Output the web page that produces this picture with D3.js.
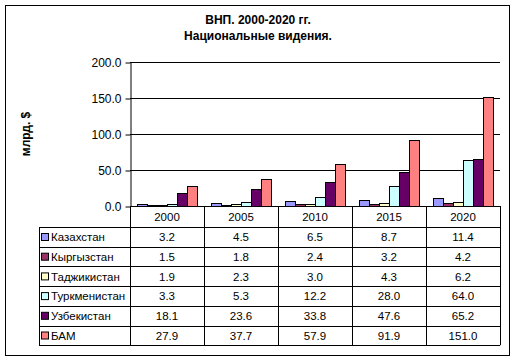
<!DOCTYPE html>
<html>
<head>
<meta charset="utf-8">
<script src="https://cdn.jsdelivr.net/npm/d3@7"></script>
<style>
  body { margin: 0; background: #fff; }
  svg text { font-family: "Liberation Sans", Arial, sans-serif; }
</style>
</head>
<body>
<svg id="chart" width="517" height="362"></svg>
<script>
// Chart data
const years = ["2000", "2005", "2010", "2015", "2020"];
const countries = ["Казахстан", "Кыргызстан", "Таджикистан", "Туркменистан", "Узбекистан", "БАМ"];
const colours = ["#9999FF", "#993366", "#FFFFCC", "#CCFFFF", "#660066", "#FF8080"];
const kazakhstan = [3.2, 4.5, 6.5, 8.7, 11.4];
const kyrgyzstan = [1.5, 1.8, 2.4, 3.2, 4.2];
const tajikistan = [1.9, 2.3, 3.0, 4.3, 6.2];
const turkmenistan = [3.3, 5.3, 12.2, 28.0, 64.0];
const uzbekistan = [18.1, 23.6, 33.8, 47.6, 65.2];
const bam = [27.9, 37.7, 57.9, 91.9, 151.0];
const yTicks = [0, 50, 100, 150, 200];
const titleLines = ["ВНП. 2000-2020 гг.", "Национальные видения."];
const yLabel = "млрд. $";

const seriesValues = [kazakhstan, kyrgyzstan, tajikistan, turkmenistan, uzbekistan, bam];
const series = countries.map((c, i) => ({ name: c, colour: colours[i], values: seriesValues[i] }));

const svg = d3.select('#chart');

// Outer frame
svg.append('rect')
    .attr('x', 5.5).attr('y', 5.5)
    .attr('width', 504).attr('height', 350)
    .attr('fill', '#fff').attr('stroke', '#000');

// Title
svg.selectAll('text.title').data(titleLines).join('text')
    .attr('class', 'title')
    .attr('x', 258)
    .attr('y', (d, i) => 24 + i * 15.5)
    .attr('text-anchor', 'middle')
    .attr('font-size', 12)
    .attr('font-weight', 'bold')
    .text(d => d);

// Plot geometry
const plot = { left: 130, right: 500, top: 62, bottom: 206 };
const rowH = 19.7;
const headerBottom = 227;
const tableLeft = 39;
const fontSize = 11.5;

const xScale = d3.scaleBand()
    .domain(years)
    .range([plot.left, plot.right]);

const xInner = d3.scaleBand()
    .domain(countries)
    .range([0, xScale.bandwidth()])
    .paddingOuter(0.7);

const yScale = d3.scaleLinear()
    .domain([0, 200])
    .range([plot.bottom, plot.top]);

// Gridlines
svg.append('g')
    .selectAll('line').data(yTicks.filter(d => d > 0)).join('line')
    .attr('x1', plot.left).attr('x2', plot.right)
    .attr('y1', d => Math.round(yScale(d)) + 0.5)
    .attr('y2', d => Math.round(yScale(d)) + 0.5)
    .attr('stroke', '#000');

// Bars
svg.append('g')
    .selectAll('g').data(series).join('g')
    .attr('fill', d => d.colour)
    .selectAll('rect').data(d => d.values.map((v, i) => ({ name: d.name, year: years[i], v })))
    .join('rect')
    .attr('x', d => Math.round(xScale(d.year) + xInner(d.name)) + 0.5)
    .attr('width', xInner.bandwidth())
    .attr('y', d => Math.round(yScale(d.v)) + 0.5)
    .attr('height', d => Math.max(0, Math.round(yScale(0)) - Math.round(yScale(d.v))))
    .attr('stroke', '#000')
    .attr('stroke-width', 1);

// Y axis
const yAxis = d3.axisLeft(yScale)
    .tickValues(yTicks)
    .tickFormat(d3.format('.1f'))
    .tickSize(5)
    .tickSizeOuter(0)
    .tickPadding(4);

const yAxisG = svg.append('g')
    .attr('transform', `translate(${plot.left + 0.5},0.5)`)
    .call(yAxis);
yAxisG.select('.domain').attr('stroke', '#000');
yAxisG.selectAll('text').attr('font-size', 12).attr('fill', '#000')
    .attr('font-family', '"Liberation Sans", Arial, sans-serif');

svg.append('text')
    .attr('transform', `translate(30,${(plot.top + plot.bottom) / 2}) rotate(-90)`)
    .attr('text-anchor', 'middle')
    .attr('font-size', 12)
    .attr('font-weight', 'bold')
    .text(yLabel);

// Data table
const rowY = i => headerBottom + i * rowH;
const tableBottom = rowY(series.length);
const table = svg.append('g').attr('stroke', '#000').attr('fill', 'none');

// x axis line
table.append('line')
    .attr('x1', plot.left).attr('x2', plot.right)
    .attr('y1', plot.bottom + 0.5).attr('y2', plot.bottom + 0.5);

// vertical lines at category boundaries
const bounds = years.map(y => xScale(y)).concat([plot.right]);
table.selectAll('line.v').data(bounds).join('line')
    .attr('class', 'v')
    .attr('x1', d => Math.round(d) + 0.5).attr('x2', d => Math.round(d) + 0.5)
    .attr('y1', plot.bottom).attr('y2', tableBottom);

// horizontal row lines
table.selectAll('line.h').data(d3.range(series.length + 1)).join('line')
    .attr('class', 'h')
    .attr('x1', tableLeft).attr('x2', plot.right)
    .attr('y1', i => Math.round(rowY(i)) + 0.5)
    .attr('y2', i => Math.round(rowY(i)) + 0.5);

table.append('line')
    .attr('x1', tableLeft + 0.5).attr('x2', tableLeft + 0.5)
    .attr('y1', headerBottom).attr('y2', tableBottom);

// header labels
svg.selectAll('text.year').data(years).join('text')
    .attr('class', 'year')
    .attr('x', d => xScale(d) + xScale.bandwidth() / 2)
    .attr('y', (plot.bottom + headerBottom) / 2 + 4.5)
    .attr('text-anchor', 'middle')
    .attr('font-size', fontSize)
    .text(d => d);

// rows
const rows = svg.selectAll('g.row').data(series).join('g')
    .attr('class', 'row')
    .attr('transform', (d, i) => `translate(0,${rowY(i)})`);

rows.append('rect')
    .attr('x', 41.5).attr('y', Math.round(rowH / 2 - 3.5) + 0.5)
    .attr('width', 7).attr('height', 7)
    .attr('fill', d => d.colour)
    .attr('stroke', '#000');

rows.append('text')
    .attr('x', 51)
    .attr('y', rowH / 2 + 4.5)
    .attr('font-size', fontSize)
    .text(d => d.name);

rows.selectAll('text.val').data(d => d.values.map((v, i) => ({ v, year: years[i] }))).join('text')
    .attr('class', 'val')
    .attr('x', d => xScale(d.year) + xScale.bandwidth() / 2)
    .attr('y', rowH / 2 + 4.5)
    .attr('text-anchor', 'middle')
    .attr('font-size', fontSize)
    .text(d => d3.format('.1f')(d.v));
</script>
</body>
</html>
